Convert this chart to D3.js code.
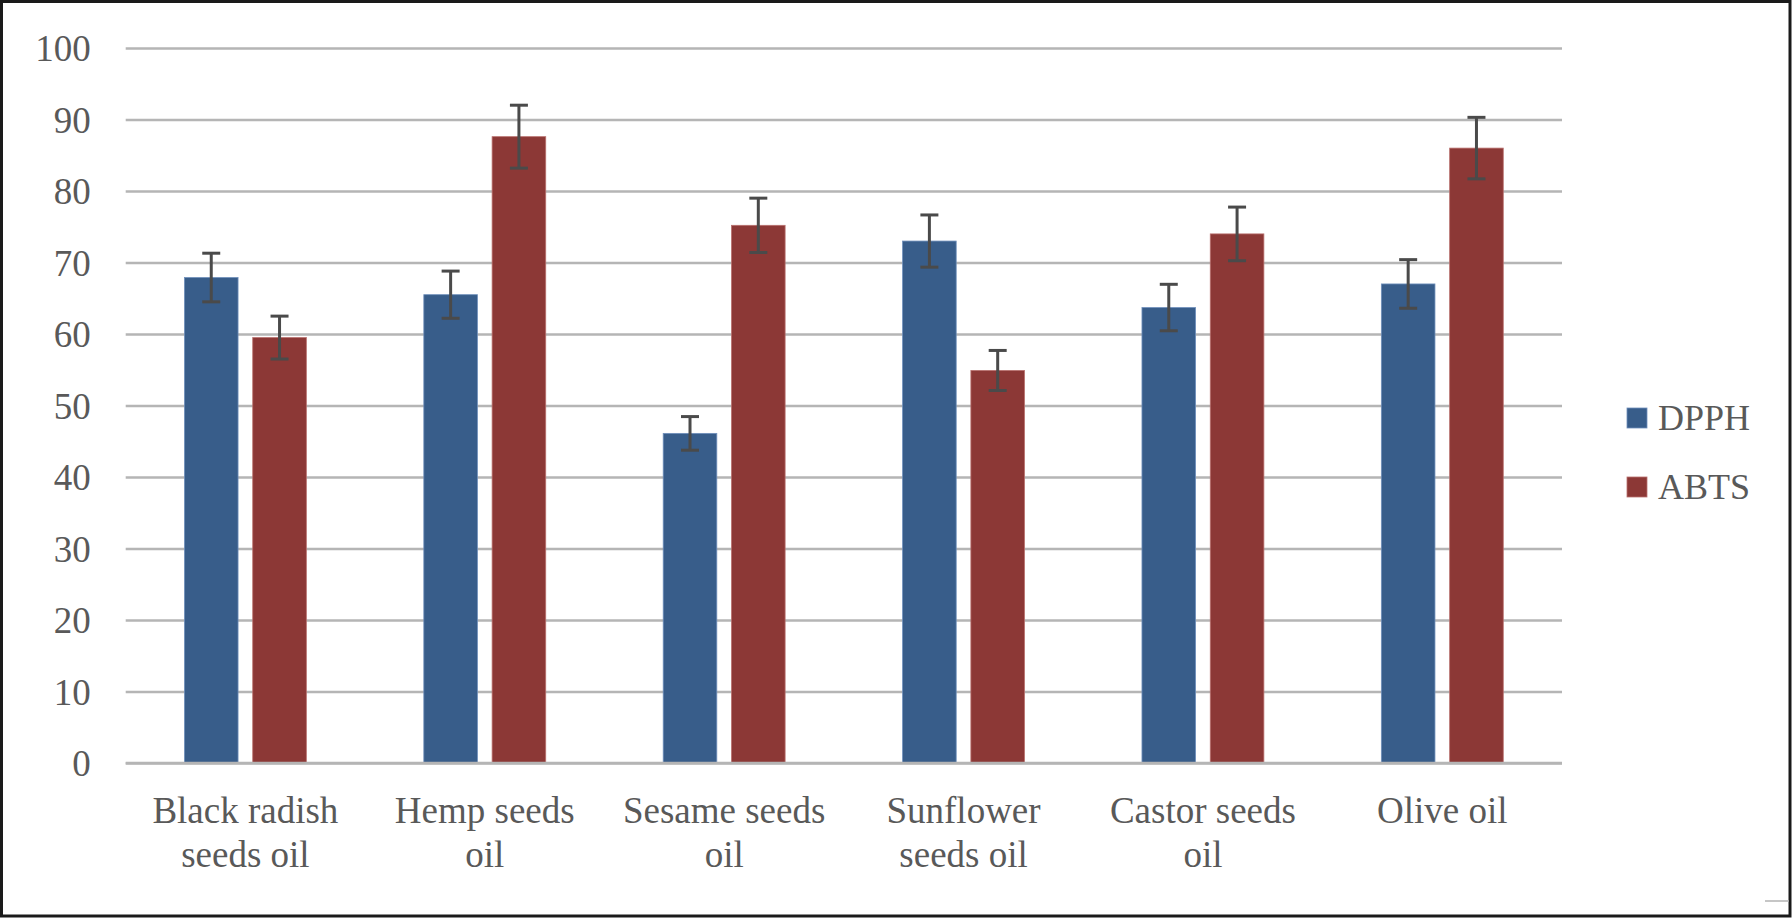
<!DOCTYPE html>
<html>
<head>
<meta charset="utf-8">
<script src="https://cdn.jsdelivr.net/npm/d3@7"></script>
<style>
  html, body { margin: 0; padding: 0; background: #fff; }
  svg { display: block; }
  text { font-family: "Liberation Serif", "DejaVu Serif", serif; fill: #595959; }
</style>
</head>
<body>
<svg id="chart" width="1792" height="918"></svg>
<script>
const categories = [
  ["Black radish", "seeds oil"],
  ["Hemp seeds", "oil"],
  ["Sesame seeds", "oil"],
  ["Sunflower", "seeds oil"],
  ["Castor seeds", "oil"],
  ["Olive oil"]
];
const seriesNames = ["DPPH", "ABTS"];
const dpphValues = [67.9, 65.5, 46.1, 73.0, 63.7, 67.0];
const dpphErrors = [3.4, 3.3, 2.35, 3.65, 3.25, 3.4];
const abtsValues = [59.5, 87.6, 75.2, 54.9, 74.0, 86.0];
const abtsErrors = [3.0, 4.4, 3.8, 2.8, 3.75, 4.3];
const yTicks = [0, 10, 20, 30, 40, 50, 60, 70, 80, 90, 100];
const colors = ["#385D8A", "#8C3836"];
const strokes = ["#6f8fbb", "#b9706e"];

const svg = d3.select("#chart");
const W = 1792, H = 918;

// outer border
svg.append("rect").attr("x", 1.5).attr("y", 1.5).attr("width", W - 3.5).attr("height", H - 3.5)
  .attr("fill", "#fff").attr("stroke", "#1a1a1a").attr("stroke-width", 3);
svg.append("line").attr("x1", 1765).attr("x2", 1789).attr("y1", 901).attr("y2", 901)
  .attr("stroke", "#b3b3b3").attr("stroke-width", 1.5);

const plot = { left: 125.7, right: 1562, top: 48, bottom: 763 };

const x0 = d3.scaleBand().domain(d3.range(categories.length))
  .range([plot.left, plot.right]).paddingInner(0).paddingOuter(0);
const x1 = d3.scaleBand().domain(seriesNames)
  .range([0, x0.bandwidth()]).paddingInner(0.215).paddingOuter(0.86);
const y = d3.scaleLinear().domain([0, 100]).range([plot.bottom, plot.top]);

// gridlines + y labels via axis
const yAxis = d3.axisLeft(y).tickValues(yTicks).tickSize(-(plot.right - plot.left)).tickPadding(35);
const gy = svg.append("g").attr("transform", `translate(${plot.left},0)`).call(yAxis);
gy.select(".domain").remove();
gy.selectAll(".tick line").attr("stroke", "#b5b5b5").attr("stroke-width", 2.6);
gy.selectAll(".tick text").attr("font-size", 37).attr("fill", "#595959")
  .attr("font-family", "Liberation Serif, serif").attr("dy", "0.34em");

// bars
const data = categories.map((c, i) => ({
  i,
  vals: [
    { s: seriesNames[0], v: dpphValues[i], e: dpphErrors[i], k: 0 },
    { s: seriesNames[1], v: abtsValues[i], e: abtsErrors[i], k: 1 }
  ]
}));

const groups = svg.append("g").selectAll("g").data(data).join("g")
  .attr("transform", d => `translate(${x0(d.i)},0)`);

groups.selectAll("rect").data(d => d.vals).join("rect")
  .attr("x", d => x1(d.s))
  .attr("width", x1.bandwidth())
  .attr("y", d => y(d.v))
  .attr("height", d => y(0) - y(d.v))
  .attr("fill", d => colors[d.k])
  .attr("stroke", d => strokes[d.k])
  .attr("stroke-width", 0.8);

// x axis line (redraw the zero line on top)
svg.append("line").attr("x1", plot.left).attr("x2", plot.right)
  .attr("y1", y(0)).attr("y2", y(0)).attr("stroke", "#b5b5b5").attr("stroke-width", 2.6);

// error bars
const eg = groups.selectAll("g.err").data(d => d.vals).join("g").attr("class", "err");
const capW = 9;
eg.append("line")
  .attr("x1", d => x1(d.s) + x1.bandwidth() / 2).attr("x2", d => x1(d.s) + x1.bandwidth() / 2)
  .attr("y1", d => y(d.v + d.e)).attr("y2", d => y(d.v - d.e))
  .attr("stroke", "#4a4a4a").attr("stroke-width", 3);
eg.append("line")
  .attr("x1", d => x1(d.s) + x1.bandwidth() / 2 - capW).attr("x2", d => x1(d.s) + x1.bandwidth() / 2 + capW)
  .attr("y1", d => y(d.v + d.e)).attr("y2", d => y(d.v + d.e))
  .attr("stroke", "#4a4a4a").attr("stroke-width", 3);
eg.append("line")
  .attr("x1", d => x1(d.s) + x1.bandwidth() / 2 - capW).attr("x2", d => x1(d.s) + x1.bandwidth() / 2 + capW)
  .attr("y1", d => y(d.v - d.e)).attr("y2", d => y(d.v - d.e))
  .attr("stroke", "#4a4a4a").attr("stroke-width", 3);

// x labels
const xl = svg.append("g").selectAll("text").data(data).join("text")
  .attr("text-anchor", "middle")
  .attr("font-size", 37)
  .attr("x", d => x0(d.i) + x0.bandwidth() / 2);
xl.selectAll("tspan").data(d => categories[d.i].map((t, j) => ({ t, j, i: d.i }))).join("tspan")
  .attr("x", d => x0(d.i) + x0.bandwidth() / 2)
  .attr("y", d => 823 + d.j * 44)
  .text(d => d.t);

// legend
const lg = svg.append("g").selectAll("g").data(seriesNames).join("g")
  .attr("transform", (d, i) => `translate(1627, ${408 + i * 69})`);
lg.append("rect").attr("width", 20).attr("height", 20)
  .attr("fill", (d, i) => colors[i]).attr("stroke", (d, i) => strokes[i]).attr("stroke-width", 0.8);
lg.append("text").attr("x", 31).attr("y", 22).attr("font-size", 36).text(d => d);
</script>
</body>
</html>
